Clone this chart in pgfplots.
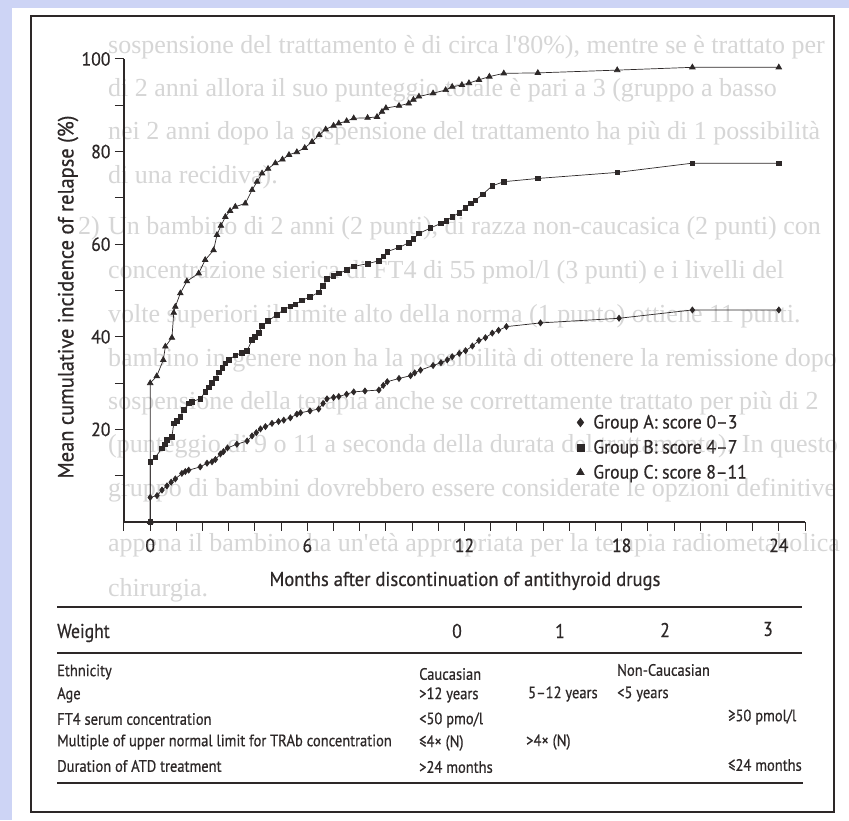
\documentclass[border=0pt]{standalone}
\usepackage{fontspec}
\setmainfont{PT Sans}[FakeStretch=0.93, FakeBold=0.6]
\newfontfamily\tabfont{PT Sans}[FakeStretch=0.88, FakeBold=0.6]
\newfontfamily\bgfont{Liberation Serif}
\usepackage{pgfplots}
\pgfplotsset{compat=1.18}
\definecolor{bgblue}{RGB}{205,212,245}
\definecolor{ink}{RGB}{45,40,40}
\definecolor{ghost}{RGB}{214,214,214}

\begin{document}
\begin{tikzpicture}[x=1pt,y=1pt]
  \useasboundingbox (0,0) rectangle (849,820);
  \fill[bgblue] (0,0) rectangle (849,820);
  \fill[white] (12,0) rectangle (849,812);

  % faint text showing through from the page
  \begin{scope}[every node/.style={anchor=west, text=ghost, inner sep=0pt, font=\bgfont\fontsize{26}{26}\selectfont}]
    \node at (108,773) {sospensione del trattamento è di circa l'80\%), mentre se è trattato per};
    \node at (108,730) {di 2 anni allora il suo punteggio totale è pari a 3 (gruppo a basso};
    \node at (108,687) {nei 2 anni dopo la sospensione del trattamento ha più di 1 possibilità};
    \node at (108,643) {di una recidiva).};
    \node[anchor=east] at (100,592) {2)};
    \node at (108,592) {Un bambino di 2 anni (2 punti), di razza non-caucasica (2 punti) con};
    \node at (108,548) {concentrazione sierica di FT4 di 55 pmol/l (3 punti) e i livelli del};
    \node at (108,504) {volte superiori il limite alto della norma (1 punto) ottiene 11 punti.};
    \node at (108,460) {bambino in genere non ha la possibilità di ottenere la remissione dopo};
    \node at (108,417) {sospensione della terapia anche se correttamente trattato per più di 2};
    \node at (108,374) {(punteggio di 9 o 11 a seconda della durata del trattamento). In questo};
    \node at (108,330) {gruppo di bambini dovrebbero essere considerate le opzioni definitive};
    \node at (108,275) {appena il bambino ha un'età appropriata per la terapia radiometabolica};
    \node at (108,230) {chirurgia.};
  \end{scope}

  \draw[ink, line width=1.4pt] (31,8) rectangle (834,804);

  \begin{axis}[
    scale only axis, width=681pt, height=463pt,
    at={(124pt,298pt)}, anchor=south west,
    xmin=-1, xmax=25, ymin=0, ymax=100,
    axis x line=bottom, axis y line=left,
    axis line style={ink, line width=1.1pt, -},
    xtick={0,6,...,24}, minor xtick={-1,...,25},
    ytick={20,40,...,100}, minor ytick={10,30,...,90},
    tick align=outside, major tick length=9pt, minor tick length=9pt,
    tick style={ink, line width=1pt},
    every tick label/.append style={font=\fontsize{19}{19}\selectfont, text=ink},
    /pgf/number format/assume math mode=true,
    xticklabel style={yshift=-4pt},
    yticklabel style={xshift=-1pt},
    clip=false,
    legend style={at={(axis cs:16.27,23.6)}, anchor=north west, draw=none, fill=none,
      inner sep=0pt, row sep=6pt, font=\fontsize{19}{19}\selectfont, text=ink,
      /tikz/every odd column/.append style={column sep=7pt}},
    legend cell align=left,
  ]
    \addplot[ink, line width=0.7pt, mark=diamond*, mark size=3pt, forget plot] coordinates {
      (0,0)(0,5.3)(0.26,5.7)(0.45,6.9)(0.64,7.8)(0.8,8.6)(0.96,9.3)(1.21,10.5)(1.34,10.9)
      (1.47,11.2)(1.91,11.9)(2.17,12.7)(2.36,13.0)(2.49,13.5)(2.68,14.7)(2.8,15.2)(2.95,16.0)
      (3.31,16.8)(3.7,17.5)(3.89,18.6)(4.05,19.3)(4.21,20.1)(4.4,20.6)(4.65,21.3)(4.9,21.7)
      (5.1,22.0)(5.35,22.5)(5.6,23.3)(5.74,23.6)(6.1,24.0)(6.43,24.4)(6.6,25.6)(6.75,26.6)
      (7.0,26.9)(7.2,27.1)(7.5,27.6)(7.77,28.1)(8.2,28.3)(8.73,28.5)(8.9,29.5)(9.05,30.3)
      (9.5,31.0)(9.94,31.6)(10.1,32.2)(10.32,32.8)(10.8,33.8)(11.1,34.4)(11.34,35.0)(11.53,35.7)
      (11.8,36.4)(12.04,37.0)(12.3,38.0)(12.55,39.2)(12.8,39.8)(13.06,40.8)(13.3,41.4)(13.6,42.2)
      (14.9,43.0)(17.9,44.0)(20.7,45.8)(24,45.8)};
    \addplot[ink, line width=0.7pt, mark=square*, mark size=2.3pt, forget plot] coordinates {
      (0,0)(0,13.0)(0.2,14.0)(0.45,15.9)(0.55,16.8)(0.64,17.7)(0.83,18.4)(0.9,21.3)(1.02,21.9)
      (1.15,22.7)(1.28,24.2)(1.47,25.6)(1.6,26.0)(1.91,26.6)(2.1,28.1)(2.25,29.1)(2.36,30.0)
      (2.5,31.0)(2.61,32.3)(2.75,33.3)(2.87,34.3)(3.0,35.0)(3.25,36.0)(3.5,36.5)(3.7,37.0)
      (3.89,39.3)(4.0,40.0)(4.14,40.9)(4.27,42.3)(4.5,43.4)(4.84,44.8)(5.1,45.8)(5.35,46.6)
      (5.54,47.0)(5.8,47.9)(6.1,48.6)(6.43,49.6)(6.6,51.0)(6.75,52.5)(7.0,53.2)(7.2,53.7)
      (7.5,54.4)(7.77,55.2)(8.3,55.8)(8.73,56.4)(8.9,57.4)(9.05,58.4)(9.5,59.3)(9.87,60.3)
      (10.05,61.2)(10.26,62.3)(10.7,63.5)(11.1,64.5)(11.3,65.0)(11.53,65.9)(11.8,66.8)(12.04,67.9)
      (12.25,68.8)(12.42,69.5)(12.7,70.8)(13.06,72.6)(13.5,73.5)(14.8,74.2)(17.83,75.5)
      (20.7,77.5)(24,77.5)};
    \addplot[ink, line width=0.7pt, mark=triangle*, mark size=3.2pt, forget plot] coordinates {
      (0,0)(0,30.0)(0.25,31.5)(0.5,35.0)(0.58,37.9)(0.83,39.8)(0.9,45.2)(0.96,46.5)(1.15,49.4)
      (1.4,52.0)(1.85,53.7)(2.1,56.6)(2.42,58.7)(2.55,62.0)(2.7,64.0)(2.87,65.9)(3.05,67.2)
      (3.25,68.1)(3.63,68.8)(3.89,71.7)(4.08,73.5)(4.27,75.3)(4.5,76.3)(4.78,77.5)(5.05,78.3)
      (5.3,79.3)(5.6,79.9)(5.9,80.8)(6.18,82.1)(6.45,83.6)(6.7,84.8)(7.0,85.6)(7.2,86.1)
      (7.5,86.6)(7.77,87.2)(8.3,87.3)(8.66,87.5)(8.85,88.6)(9.0,89.4)(9.5,89.9)(9.87,90.4)
      (10.05,91.2)(10.26,91.9)(10.8,92.6)(11.28,93.3)(11.53,94.0)(11.9,94.4)(12.17,94.8)
      (12.55,95.5)(12.95,96.2)(13.5,96.9)(14.8,97.0)(17.83,97.6)(20.7,98.2)(24,98.2)};
    \addlegendimage{only marks, ink, mark=diamond*, mark size=4.5pt}
    \addlegendentry{Group A: score 0–3}
    \addlegendimage{only marks, ink, mark=square*, mark size=3.6pt}
    \addlegendentry{Group B: score 4–7}
    \addlegendimage{only marks, ink, mark=triangle*, mark size=4.5pt}
    \addlegendentry{Group C: score 8–11}
  \end{axis}

  \node[rotate=90, text=ink, font=\fontsize{22}{22}\selectfont] at (68,523)
    {Mean cumulative incidence of relapse (\%)};
  \node[text=ink, font=\fontsize{20}{20}\selectfont] at (465,239)
    {Months after discontinuation of antithyroid drugs};

  % weighting table
  \draw[ink, line width=1.6pt] (57,213) -- (802,213);
  \draw[ink, line width=1.6pt] (57,167) -- (802,167);
  \draw[ink, line width=1.6pt] (57,37) -- (803,37);
  \begin{scope}[every node/.style={text=ink, inner sep=0pt, font=\tabfont\fontsize{20}{20}\selectfont}]
    \node[anchor=west] at (57,187) {Weight};
    \node at (457,189) {0};
    \node at (560,189) {1};
    \node at (665,190) {2};
    \node at (768,191) {3};
  \end{scope}
  \begin{scope}[every node/.style={text=ink, inner sep=0pt, anchor=west, font=\tabfont\fontsize{16.5}{16.5}\selectfont}]
    \node at (57,148) {Ethnicity};
    \node at (57,125) {Age};
    \node at (57,101) {FT4 serum concentration};
    \node at (57,78) {Multiple of upper normal limit for TRAb concentration};
    \node at (57,54) {Duration of ATD treatment};
    \node at (419,146) {Caucasian};
    \node at (617,150) {Non-Caucasian};
    \node at (419,125) {>12 years};
    \node at (528,126) {5–12 years};
    \node at (617,126) {<5 years};
    \node at (419,100) {<50 pmo/l};
    \node at (728,103) {≥50 pmol/l};
    \node at (419,77) {≤4× (N)};
    \node at (526,78) {>4× (N)};
    \node at (419,53) {>24 months};
    \node at (728,55) {≤24 months};
  \end{scope}
\end{tikzpicture}
\end{document}
